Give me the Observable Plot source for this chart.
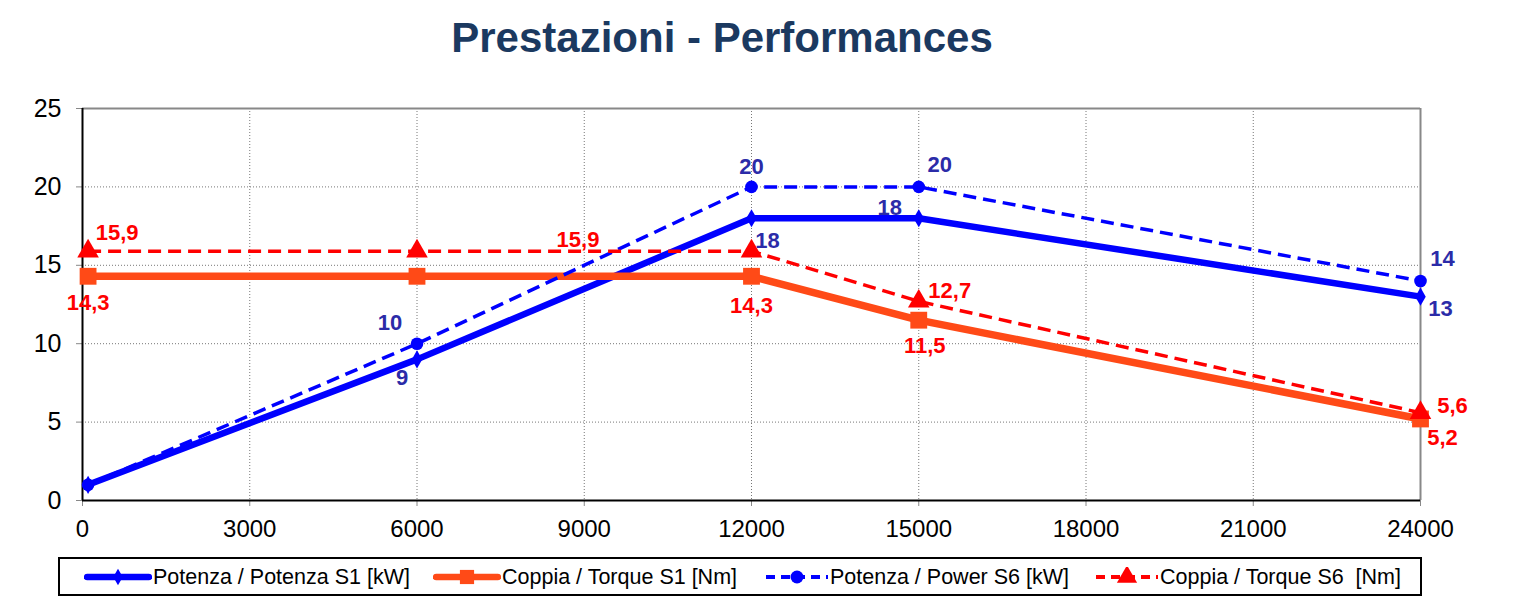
<!DOCTYPE html>
<html>
<head>
<meta charset="utf-8">
<script src="https://cdn.jsdelivr.net/npm/d3@7"></script>
<script src="https://cdn.jsdelivr.net/npm/@observablehq/plot@0.6"></script>
<style>
  body { margin: 0; background: #fff; font-family: "Liberation Sans", Arial, sans-serif; }
  #wrap { position: relative; width: 1514px; height: 604px; }
  #title { position: absolute; left: 0; width: 1444px; top: 13px; text-align: center;
           font-size: 42px; line-height: 50px; font-weight: bold; color: #1b3960; }
  #chart { position: absolute; left: 0; top: 80px; }
  #legend { position: absolute; left: 58px; top: 557px; width: 1364px; height: 39px;
            border: 2px solid #000; box-sizing: border-box; }
  .sample { position: absolute; top: 8px; }
  .label { position: absolute; top: 2px; height: 32px; line-height: 32px;
           font-size: 21.5px; color: #000; white-space: pre; }
</style>
</head>
<body>
<div id="wrap">
  <div id="title">Prestazioni - Performances</div>
  <div id="chart"></div>
  <div id="legend"></div>
</div>
<script>
// ---- data ----
const rpm = [100, 6000, 12000, 15000, 24000];
const potenzaS1 = [1, 9, 18, 18, 13];
const coppiaS1 = [14.3, 14.3, 14.3, 11.5, 5.2];
const potenzaS6 = [1, 10, 20, 20, 14];
const coppiaS6 = [15.9, 15.9, 15.9, 12.7, 5.6];
const xTicks = [0, 3000, 6000, 9000, 12000, 15000, 18000, 21000, 24000];
const yTicks = [0, 5, 10, 15, 20, 25];
const seriesNames = [
  "Potenza / Potenza S1 [kW]",
  "Coppia / Torque S1 [Nm]",
  "Potenza / Power S6 [kW]",
  "Coppia / Torque S6  [Nm]"
];

// ---- styles ----
const series = [
  {name: seriesNames[0], values: potenzaS1, color: "#0000ff", width: 6.5, dash: null, symbol: "diamond", r: 5.5, legendR: 5, labelColor: "#2b2ba8",
   offsets: [null, [-15, 19], [16, 23], [-29, -10], [20, 12]]},
  {name: seriesNames[1], values: coppiaS1, color: "#ff4a17", width: 7.5, dash: null, symbol: "square", r: 9.5, legendR: 8, labelColor: "#ff0000",
   offsets: [[0, 27], null, [0, 30], [6, 26], [22, 19]]},
  {name: seriesNames[2], values: potenzaS6, color: "#0000ff", width: 3.5, dash: "13,7", symbol: "circle", r: 6.3, legendR: 6.5, labelColor: "#2b2ba8",
   offsets: [null, [-27, -21], [0, -20], [21, -22], [22, -22]]},
  {name: seriesNames[3], values: coppiaS6, color: "#ff0000", width: 3.5, dash: "13,7", symbol: "triangle", r: 8, legendR: 7.5, labelColor: "#ff0000",
   offsets: [[29, -18], [161, -11], null, [31, -10], [32, -7]]}
];

const fmt = v => String(v).replace(".", ",");

const marks = [
  Plot.gridX(xTicks.slice(1), {stroke: "#777", strokeOpacity: 1, strokeDasharray: "1,2"}),
  Plot.gridY(yTicks.slice(1), {stroke: "#777", strokeOpacity: 1, strokeDasharray: "1,2"}),
  Plot.ruleY([25], {stroke: "#888", strokeWidth: 2}),
  Plot.ruleX([24000], {stroke: "#888", strokeWidth: 2}),
  Plot.axisX({ticks: xTicks, tickSize: 6, tickPadding: 13, fontSize: 24, stroke: "#888", tickFormat: d => String(d)}),
  Plot.axisY({ticks: yTicks, tickSize: 6, tickPadding: 15, fontSize: 25, stroke: "#888"}),
  Plot.ruleX([0], {stroke: "#000", strokeWidth: 2}),
  Plot.ruleY([0], {stroke: "#000", strokeWidth: 2})
];

for (const s of series) {
  const pts = rpm.map((x, i) => ({x, y: s.values[i]}));
  marks.push(Plot.line(pts, {x: "x", y: "y", stroke: s.color, strokeWidth: s.width,
    strokeDasharray: s.dash, strokeLinejoin: "miter", strokeLinecap: "butt"}));
  marks.push(Plot.dot(pts, {x: "x", y: "y", symbol: () => s.symbol, r: s.r, fill: s.color, stroke: "none"}));
}
for (const s of series) {
  rpm.forEach((x, i) => {
    const o = s.offsets[i];
    if (!o) return;
    marks.push(Plot.text([{x, y: s.values[i]}], {x: "x", y: "y", text: d => fmt(d.y),
      dx: o[0], dy: o[1], fill: s.labelColor, fontWeight: "bold", fontSize: 22}));
  });
}

const chart = Plot.plot({
  width: 1514,
  height: 470,
  marginLeft: 82,
  marginRight: 94,
  marginTop: 28,
  marginBottom: 50,
  x: {domain: [0, 24000], label: null},
  y: {domain: [0, 25], label: null},
  style: {fontFamily: "'Liberation Sans', Arial, sans-serif", color: "#000", background: "#fff", overflow: "visible"},
  marks
});
document.getElementById("chart").appendChild(chart);

// ---- legend ----
const sampleLefts = [24, 373, 703, 1033];
const labelLefts = [93, 442, 770, 1100];
const legend = document.getElementById("legend");
series.forEach((s, i) => {
  const svg = d3.create("svg").attr("class", "sample").attr("width", 68).attr("height", 20)
    .style("left", sampleLefts[i] + "px");
  svg.append("line").attr("x1", 3).attr("x2", 65).attr("y1", 10).attr("y2", 10)
    .attr("stroke", s.color).attr("stroke-width", s.dash ? 4 : 6.5)
    .attr("stroke-dasharray", s.dash ? "9,6" : null)
    .attr("stroke-linecap", s.dash ? "butt" : "round");
  const sym = {diamond: d3.symbolDiamond, square: d3.symbolSquare, circle: d3.symbolCircle, triangle: d3.symbolTriangle}[s.symbol];
  svg.append("path").attr("transform", "translate(34,10)")
    .attr("d", d3.symbol(sym, Math.PI * s.legendR * s.legendR)()).attr("fill", s.color);
  legend.appendChild(svg.node());
  const lab = document.createElement("div");
  lab.className = "label";
  lab.style.left = labelLefts[i] + "px";
  lab.textContent = s.name;
  legend.appendChild(lab);
});
</script>
</body>
</html>
